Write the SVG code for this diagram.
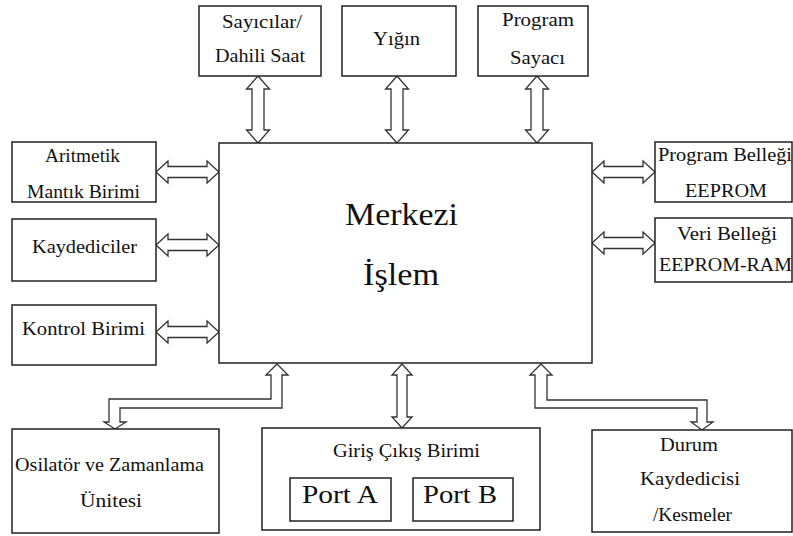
<svg xmlns="http://www.w3.org/2000/svg" width="793" height="536" viewBox="0 0 793 536">
<style>
.box{fill:#fff;stroke:#222;stroke-width:1.5}
.arr{fill:#fff;stroke:#333;stroke-width:1.3;stroke-linejoin:miter}
text{font-size:19px;fill:#111}
.big{font-size:32px}
.port{font-size:26px}
</style>
<rect width="793" height="536" fill="#fff"/>
<g id="connectors">
<polygon class="arr" points="258,76 269.5,89 264,89 264,130 269.5,130 258,143 246.5,130 252,130 252,89 246.5,89"/>
<polygon class="arr" points="397,76 408.5,89 403,89 403,130 408.5,130 397,143 385.5,130 391,130 391,89 385.5,89"/>
<polygon class="arr" points="537,76 548.5,89 543,89 543,130 548.5,130 537,143 525.5,130 531,130 531,89 525.5,89"/>
<polygon class="arr" points="156,172 168,161 168,166.5 207,166.5 207,161 219,172 207,183 207,177.5 168,177.5 168,183"/>
<polygon class="arr" points="156,245 168,234 168,239.5 207,239.5 207,234 219,245 207,256 207,250.5 168,250.5 168,256"/>
<polygon class="arr" points="156,332 168,321 168,326.5 207,326.5 207,321 219,332 207,343 207,337.5 168,337.5 168,343"/>
<polygon class="arr" points="592,172 604,161 604,166.5 643,166.5 643,161 655,172 643,183 643,177.5 604,177.5 604,183"/>
<polygon class="arr" points="592,243 604,232 604,237.5 643,237.5 643,232 655,243 643,254 643,248.5 604,248.5 604,254"/>
<polygon class="arr" points="277,364 288,375 282,375 282,408 120,408 120,422 126,422 115,429 104,422 109,422 109,399 271,399 271,375 266,375"/>
<polygon class="arr" points="402,364 412,375 407,375 407,417 412,417 402,428 392,417 397,417 397,375 392,375"/>
<polygon class="arr" points="541,364 552,375 547,375 547,400 707,400 707,422 713,422 702,430 691,422 697,422 697,408 535,408 535,375 530,375"/>
</g>
<g font-family="'Liberation Serif', 'DejaVu Serif', serif">
<g id="cpu">
<rect class="box" x="219" y="143" width="373" height="220"/>
<text class="big" x="345" y="225" textLength="113" lengthAdjust="spacingAndGlyphs">Merkezi</text>
<text class="big" x="363" y="285" textLength="76" lengthAdjust="spacingAndGlyphs">İşlem</text>
</g>
<g id="sayicilar">
<rect class="box" x="199" y="6" width="122" height="70"/>
<text x="222" y="28" textLength="80" lengthAdjust="spacingAndGlyphs">Sayıcılar/</text>
<text x="215" y="62" textLength="90" lengthAdjust="spacingAndGlyphs">Dahili Saat</text>
</g>
<g id="yigin">
<rect class="box" x="342" y="6" width="114" height="70"/>
<text x="373" y="45" textLength="47" lengthAdjust="spacingAndGlyphs">Yığın</text>
</g>
<g id="program-sayaci">
<rect class="box" x="478" y="6" width="110" height="70"/>
<text x="502" y="26" textLength="72" lengthAdjust="spacingAndGlyphs">Program</text>
<text x="510" y="64" textLength="55" lengthAdjust="spacingAndGlyphs">Sayacı</text>
</g>
<g id="aritmetik">
<rect class="box" x="12" y="142" width="144" height="60"/>
<text x="45" y="162" textLength="75" lengthAdjust="spacingAndGlyphs">Aritmetik</text>
<text x="27" y="198" textLength="113" lengthAdjust="spacingAndGlyphs">Mantık Birimi</text>
</g>
<g id="kaydediciler">
<rect class="box" x="12" y="219" width="144" height="62"/>
<text x="32" y="253" textLength="105" lengthAdjust="spacingAndGlyphs">Kaydediciler</text>
</g>
<g id="kontrol">
<rect class="box" x="12" y="305" width="144" height="60"/>
<text x="22" y="335" textLength="123" lengthAdjust="spacingAndGlyphs">Kontrol Birimi</text>
</g>
<g id="program-bellegi">
<rect class="box" x="655" y="142" width="137" height="60"/>
<text x="658" y="161" textLength="134" lengthAdjust="spacingAndGlyphs">Program Belleği</text>
<text x="685" y="197" textLength="82" lengthAdjust="spacingAndGlyphs">EEPROM</text>
</g>
<g id="veri-bellegi">
<rect class="box" x="655" y="218" width="137" height="64"/>
<text x="677" y="240" textLength="100" lengthAdjust="spacingAndGlyphs">Veri Belleği</text>
<text x="659" y="271" textLength="133" lengthAdjust="spacingAndGlyphs">EEPROM-RAM</text>
</g>
<g id="osilator">
<rect class="box" x="12" y="429" width="207" height="104"/>
<text x="15" y="471" textLength="189" lengthAdjust="spacingAndGlyphs">Osilatör ve Zamanlama</text>
<text x="80" y="507" textLength="62" lengthAdjust="spacingAndGlyphs">Ünitesi</text>
</g>
<g id="giris-cikis">
<rect class="box" x="262" y="428" width="278" height="102"/>
<text x="333" y="457" textLength="147" lengthAdjust="spacingAndGlyphs">Giriş Çıkış Birimi</text>
</g>
<g id="port-a">
<rect class="box" x="290" y="478" width="101" height="43"/>
<text class="port" x="302" y="503" textLength="76" lengthAdjust="spacingAndGlyphs">Port A</text>
</g>
<g id="port-b">
<rect class="box" x="413" y="478" width="100" height="43"/>
<text class="port" x="423" y="503" textLength="74" lengthAdjust="spacingAndGlyphs">Port B</text>
</g>
<g id="durum">
<rect class="box" x="592" y="430" width="200" height="102"/>
<text x="660" y="451" textLength="58" lengthAdjust="spacingAndGlyphs">Durum</text>
<text x="640" y="485" textLength="100" lengthAdjust="spacingAndGlyphs">Kaydedicisi</text>
<text x="653" y="521" textLength="79" lengthAdjust="spacingAndGlyphs">/Kesmeler</text>
</g>
</g>
</svg>
